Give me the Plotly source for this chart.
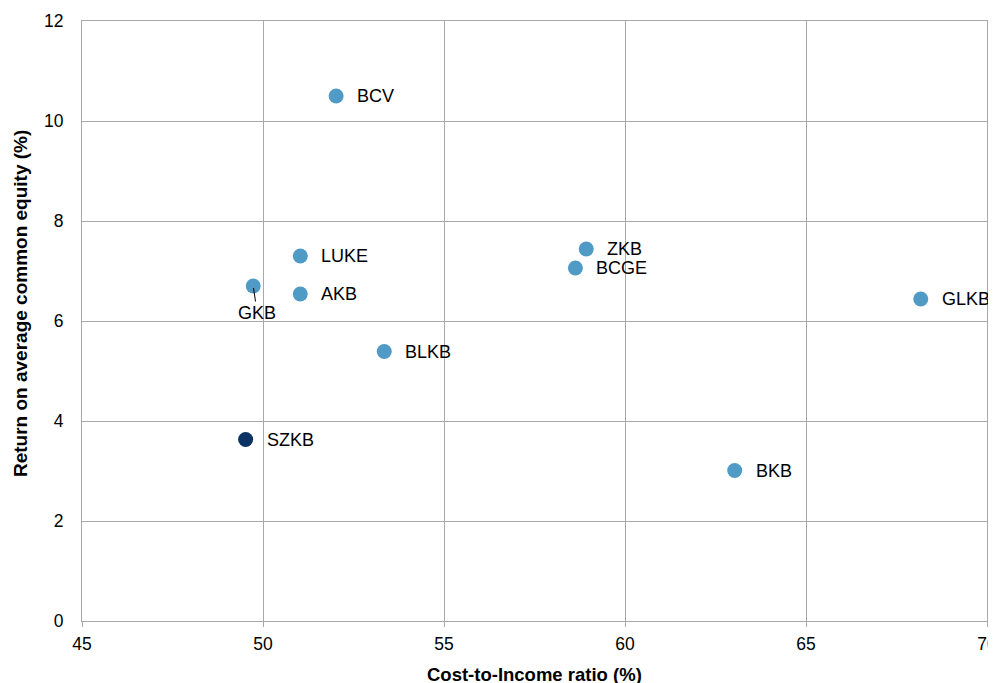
import plotly.graph_objects as go

banks = ["BCV", "LUKE", "AKB", "GKB", "BLKB", "SZKB", "ZKB", "BCGE", "GLKB", "BKB"]
cost_income = [52.02, 51.03, 51.03, 49.73, 53.35, 49.52, 58.93, 58.63, 68.17, 63.03]
roe = [10.50, 7.30, 6.54, 6.70, 5.39, 3.63, 7.44, 7.06, 6.44, 3.01]
colors = ["#4f9bc6"] * 5 + ["#0a3264"] + ["#4f9bc6"] * 4
x_title = "Cost-to-Income ratio (%)"
y_title = "Return on average common equity (%)"

font = "Liberation Sans, Arial, sans-serif"

fig = go.Figure()
fig.add_trace(go.Scatter(
    x=cost_income, y=roe, mode="markers",
    marker=dict(size=15, color=colors, line=dict(width=0)),
    cliponaxis=False, showlegend=False, hoverinfo="text", text=banks,
))

for b, xv, yv in zip(banks, cost_income, roe):
    if b == "GKB":
        fig.add_annotation(x=xv, y=yv, text=b, showarrow=True, arrowhead=0,
                           arrowwidth=1, arrowcolor="#000000", ax=4, ay=27,
                           standoff=2, font=dict(size=18, color="#000000", family=font))
    else:
        fig.add_annotation(x=xv, y=yv, text=b, showarrow=False, xanchor="left",
                           xshift=19, font=dict(size=18, color="#000000", family=font))

# axis titles
fig.add_annotation(xref="paper", yref="paper", x=0.5, y=0, text="<b>" + x_title + "</b>",
                   showarrow=False, xanchor="center", yanchor="middle", yshift=-53,
                   font=dict(size=18.5, color="#000000", family=font))
fig.add_annotation(xref="paper", yref="paper", x=0, y=0.5, text="<b>" + y_title + "</b>",
                   showarrow=False, textangle=-90, xanchor="center", yanchor="middle",
                   xshift=-62, yshift=17,
                   font=dict(size=19, color="#000000", family=font))

grid = "#a8a8a8"
# the page body adds an 8px offset, so the figure is sized to fit the visible window
fig.update_layout(
    width=980, height=675,
    margin=dict(l=74, r=1, t=13, b=62, autoexpand=False),
    paper_bgcolor="white", plot_bgcolor="white",
    font=dict(family=font, size=17.5, color="#000000"),
    xaxis=dict(range=[45, 70], dtick=5, showgrid=True, gridcolor=grid, gridwidth=1,
               zeroline=False, showline=True, linecolor=grid, mirror=True,
               ticks="outside", ticklen=5, tickcolor=grid, tickwidth=1,
               automargin=False, tickfont=dict(size=17.5), ticklabelstandoff=2,
               ticklabeloverflow="allow"),
    yaxis=dict(range=[0, 12], dtick=2, showgrid=True, gridcolor=grid, gridwidth=1,
               zeroline=False, showline=True, linecolor=grid, mirror=True, ticks="",
               automargin=False, tickfont=dict(size=17.5), ticklabelstandoff=14,
               ticklabeloverflow="allow"),
)

fig.write_html("out.html")
